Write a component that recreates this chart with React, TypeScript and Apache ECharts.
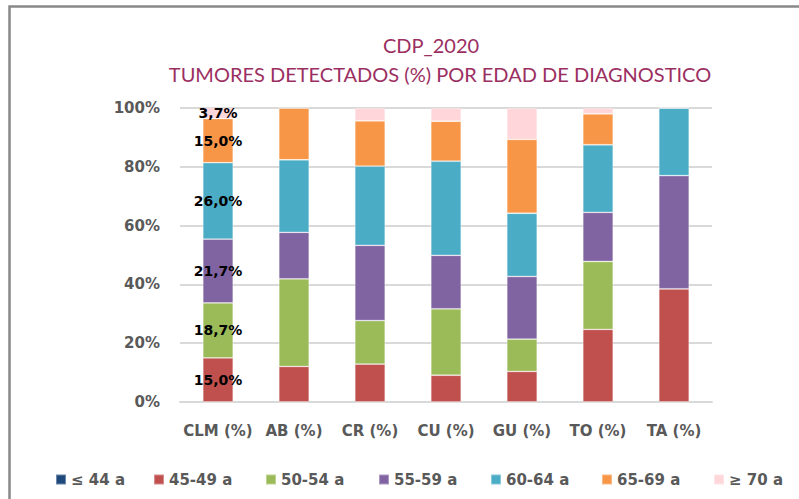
import React, { useEffect, useRef } from "react";
import * as echarts from "echarts";

const categories = ["CLM (%)", "AB (%)", "CR (%)", "CU (%)", "GU (%)", "TO (%)", "TA (%)"];
const seriesNames = ["≤ 44 a", "45-49 a", "50-54 a", "55-59 a", "60-64 a", "65-69 a", "≥ 70 a"];
const le44 = [0, 0, 0, 0, 0, 0, 0];
const a45_49 = [15.0, 12.1, 12.9, 9.1, 10.4, 24.7, 38.5];
const a50_54 = [18.7, 29.8, 14.8, 22.6, 11.0, 23.1, 0];
const a55_59 = [21.7, 15.8, 25.6, 18.2, 21.3, 16.7, 38.5];
const a60_64 = [26.0, 24.7, 26.9, 32.0, 21.5, 23.0, 23.0];
const a65_69 = [15.0, 17.6, 15.4, 13.6, 25.1, 10.5, 0];
const ge70 = [3.7, 0, 4.4, 4.5, 10.7, 2.0, 0];
const yTicks = [0, 20, 40, 60, 80, 100];
const colors = ["#1F497D", "#C0504D", "#9BBB59", "#8064A2", "#4BACC6", "#F79646", "#FFD7DB"];

const TITLE_FONT = "Lato, 'Open Sans', sans-serif";
const FONT = "'DejaVu Sans', sans-serif";
const legendLefts = [55, 153, 265, 378, 490, 601, 713];

export default function App() {
  const ref = useRef<HTMLDivElement>(null);
  useEffect(() => {
    if (!ref.current) return;
    const chart = echarts.init(ref.current, undefined, { renderer: "svg" });
    const allData = [le44, a45_49, a50_54, a55_59, a60_64, a65_69, ge70];
    chart.setOption({
      animation: false,
      backgroundColor: "#ffffff",
      textStyle: { fontFamily: FONT },
      graphic: [
        {
          type: "rect",
          shape: { x: 9.5, y: 6.5, width: 900, height: 600 },
          style: { fill: "none", stroke: "#888888", lineWidth: 2.5 },
          silent: true,
        },
        {
          type: "text",
          x: 431,
          y: 45,
          style: {
            text: "CDP_2020",
            fill: "#9B2F62",
            font: `20px ${TITLE_FONT}`,
            textAlign: "center",
            textVerticalAlign: "middle",
          },
        },
        {
          type: "text",
          x: 440,
          y: 74,
          style: {
            text: "TUMORES DETECTADOS (%) POR EDAD DE DIAGNOSTICO",
            fill: "#9B2F62",
            font: `20px ${TITLE_FONT}`,
            textAlign: "center",
            textVerticalAlign: "middle",
          },
        },
      ],
      grid: { left: 180, right: 87, top: 108, bottom: 97, containLabel: false },
      xAxis: {
        type: "category",
        data: categories,
        axisLine: { show: true, lineStyle: { color: "#D9D9D9", width: 2 } },
        axisTick: { show: false },
        axisLabel: { interval: 0, color: "#595959", fontWeight: "bold", fontSize: 15, margin: 21, fontFamily: FONT },
      },
      yAxis: {
        type: "value",
        min: 0,
        max: 100,
        interval: 20,
        axisLine: { show: false },
        axisTick: { show: false },
        splitLine: { lineStyle: { color: "#D9D9D9", width: 2 } },
        axisLabel: {
          color: "#595959",
          fontWeight: "bold",
          fontSize: 15,
          margin: 20,
          fontFamily: FONT,
          formatter: (v: number) => (yTicks.includes(v) ? `${v}%` : ""),
        },
      },
      legend: seriesNames.map((n, i) => ({
        top: 472,
        left: legendLefts[i],
        padding: 0,
        itemWidth: 10,
        itemHeight: 10,
        icon: "rect",
        data: [n],
        textStyle: { color: "#595959", fontWeight: "bold", fontSize: 15, fontFamily: FONT },
      })),
      series: seriesNames.map((name, i) => ({
        name,
        type: "bar",
        stack: "total",
        barWidth: "40%",
        data: allData[i],
        itemStyle: { color: colors[i], borderColor: "rgba(255,255,255,0.35)", borderWidth: 0.8 },
        label: {
          show: true,
          position: "inside",
          color: "#000000",
          fontWeight: "bold",
          fontSize: 14,
          fontFamily: FONT,
          formatter: (p: any) =>
            p.dataIndex === 0 && p.value > 0 ? `${Number(p.value).toFixed(1).replace(".", ",")}%` : "",
        },
      })),
    });
    return () => chart.dispose();
  }, []);
  return (
    <div
      ref={ref}
      style={{ position: "fixed", left: 0, top: 0, width: 799, height: 499 }}
    />
  );
}
